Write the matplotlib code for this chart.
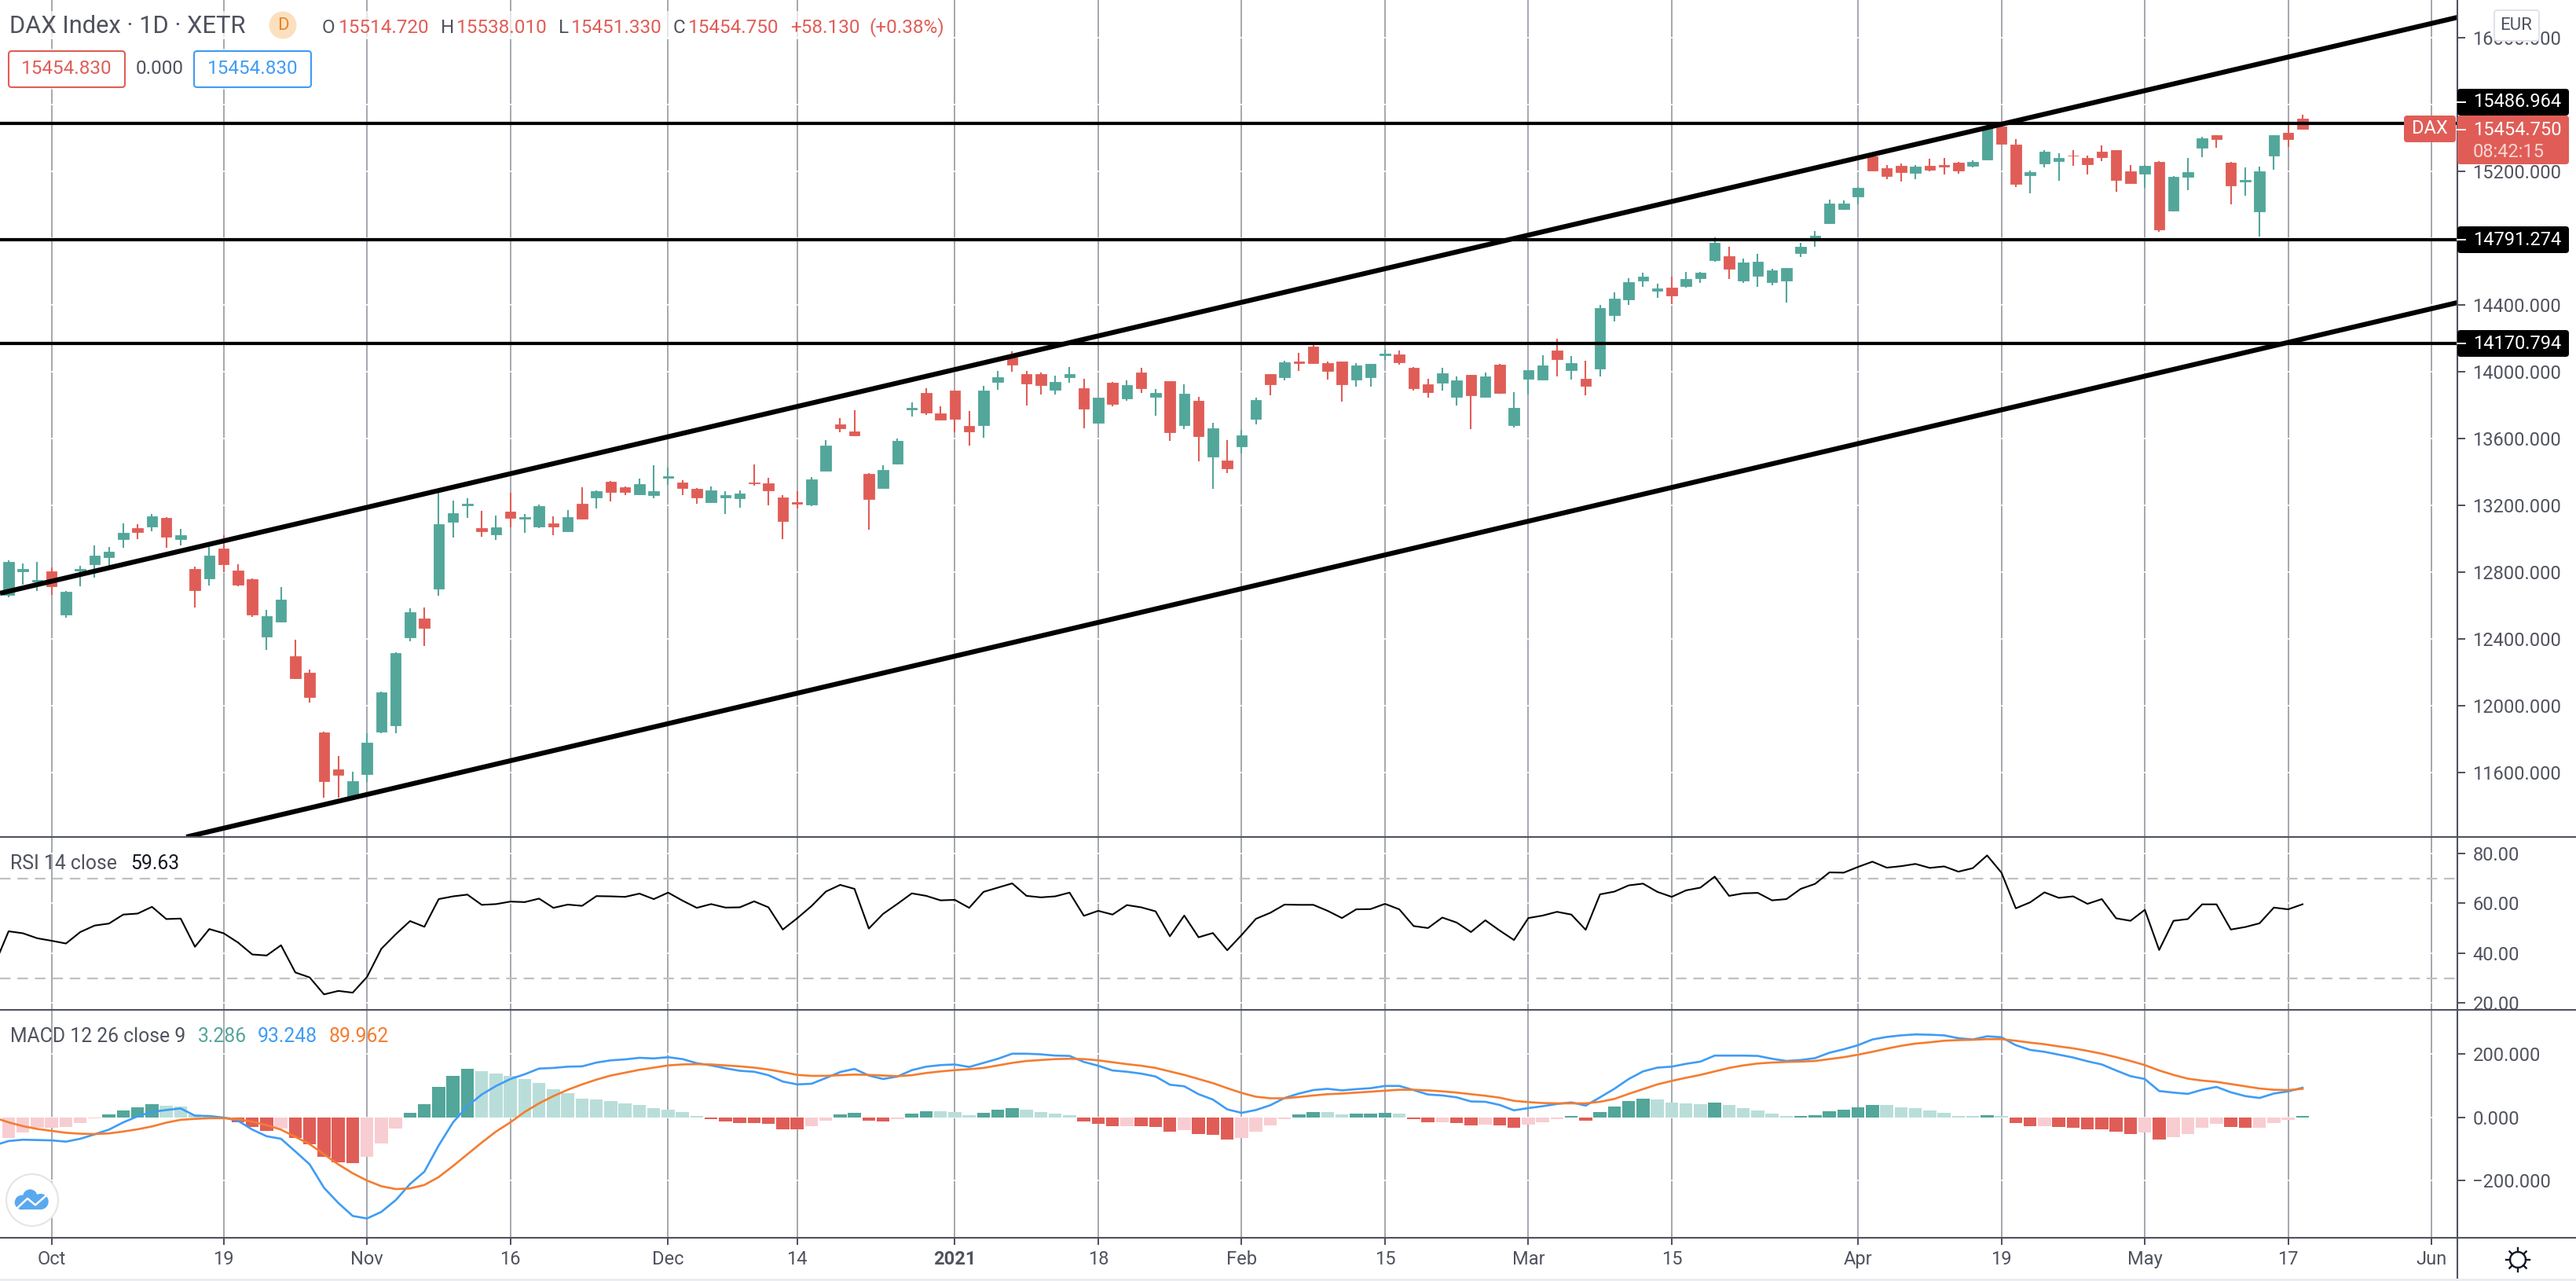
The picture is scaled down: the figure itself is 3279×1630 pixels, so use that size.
import numpy as np
import matplotlib
matplotlib.use("Agg")
import matplotlib.pyplot as plt
from matplotlib.patches import Circle, FancyBboxPatch, Rectangle
from matplotlib.transforms import Bbox

plt.rcParams['font.family'] = ['Roboto', 'DejaVu Sans']

# daily candles, bar 0 is the first one on the left edge
opens = [12662,12807,12744,12805,12547,12809,12848,12891,12999,13065,
         13074,13125,12999,12821,12764,12942,12810,12759,12415,12504,
         12295,12198,11840,11621,11460,11592,11845,11883,12410,12521,
         12703,13100,13199,13064,13028,13163,13118,13074,13093,13043,
         13211,13245,13343,13310,13267,13260,13363,13337,13298,13221,
         13245,13242,13337,13332,13248,13219,13207,13406,13686,13644,
         13390,13302,13448,13774,13871,13749,13885,13677,13678,13939,
         14083,13984,13984,13890,13967,13900,13693,13933,13838,13994,
         13848,13942,13678,13824,13490,13470,13551,13718,13984,13967,
         14060,14152,14050,14060,13951,13967,14100,14102,14022,13923,
         13933,13848,13980,13848,14041,13678,13956,13951,14126,14008,
         13956,14019,14339,14433,14546,14485,14503,14511,14560,14666,
         14694,14545,14573,14537,14545,14710,14806,14889,14975,15049,
         15290,15217,15235,15191,15235,15240,15252,15234,15270,15470,
         15358,15176,15247,15263,15296,15278,15316,15325,15202,15186,
         15255,14963,15169,15341,15415,15250,15138,14960,15295,15429,
         15514.72]
highs = [12869,12852,12863,12826,12687,12836,12961,12952,13093,13088,
         13146,13128,13060,12834,12949,13023,12845,12763,12576,12711,
         12395,12217,11845,11697,11604,11837,12083,12321,12585,12590,
         13274,13230,13240,13165,13141,13274,13146,13206,13132,13170,
         13307,13291,13346,13314,13360,13438,13426,13351,13303,13312,
         13283,13291,13447,13367,13259,13286,13370,13592,13721,13770,
         13394,13438,13598,13815,13901,13791,13888,13763,13914,14003,
         14124,14003,13994,13975,14027,13956,13846,13937,13947,14022,
         13895,13945,13923,13848,13693,13589,13653,13843,13987,14066,
         14111,14163,14060,14063,14050,14049,14132,14126,14030,13956,
         14022,13970,13983,13994,14046,13876,14011,14097,14198,14093,
         14064,14399,14474,14559,14591,14526,14571,14600,14597,14803,
         14748,14677,14705,14616,14623,14773,14842,15029,15026,15106,
         15293,15240,15247,15240,15275,15278,15255,15268,15480,15501,
         15391,15207,15325,15306,15325,15295,15356,15328,15240,15238,
         15260,15172,15278,15407,15418,15255,15224,15230,15418,15480,
         15538.01]
lows = [12648,12727,12689,12662,12528,12716,12769,12838,12947,12999,
        13047,12947,12959,12590,12722,12799,12713,12533,12335,12500,
        12162,12020,11447,11450,11452,11543,11837,11837,12388,12359,
        12660,13009,13127,13014,12995,13069,13035,13065,13023,13041,
        13115,13182,13225,13262,13262,13243,13322,13262,13211,13216,
        13149,13187,13319,13202,12999,13180,13197,13400,13639,13616,
        13052,13300,13445,13730,13740,13707,13638,13556,13606,13893,
        13998,13796,13862,13862,13933,13663,13690,13794,13827,13871,
        13735,13587,13658,13465,13300,13394,13512,13683,13857,13947,
        14003,14047,13951,13820,13909,13909,14069,14041,13885,13843,
        13885,13796,13655,13845,13868,13664,13865,13948,13970,13951,
        13857,13970,14300,14399,14506,14441,14403,14503,14530,14660,
        14555,14532,14507,14516,14413,14687,14748,14884,14970,15004,
        15203,15153,15140,15153,15200,15181,15186,15225,15268,15363,
        15107,15069,15225,15143,15234,15181,15262,15077,15127,15103,
        14838,14960,15085,15285,15341,15003,15054,14809,15209,15346,
        15451.33]
closes = [12863,12821,12754,12716,12684,12821,12899,12923,13036,13041,
          13132,13011,13023,12694,12899,12845,12727,12547,12537,12636,
          12165,12053,11549,11587,11548,11779,12080,12316,12561,12467,
          13088,13154,13209,13043,13069,13127,13129,13197,13074,13130,
          13118,13286,13279,13279,13329,13286,13375,13302,13245,13291,
          13262,13272,13331,13288,13105,13209,13356,13558,13659,13621,
          13238,13413,13584,13785,13755,13711,13716,13641,13889,13966,
          14041,13929,13918,13937,13984,13777,13843,13805,13918,13901,
          13871,13636,13867,13613,13660,13423,13617,13829,13925,14055,
          14050,14050,14003,13925,14036,14046,14110,14055,13900,13878,
          13989,13947,13859,13970,13871,13782,14008,14036,14074,14050,
          13914,14380,14436,14535,14569,14497,14455,14555,14591,14770,
          14616,14653,14658,14605,14620,14747,14814,15006,15006,15103,
          15206,15173,15197,15230,15209,15229,15206,15255,15465,15366,
          15126,15196,15316,15278,15292,15242,15285,15148,15130,15235,
          14852,15169,15194,15397,15392,15115,15146,15199,15415,15392,
          15454.75]

# rsi and macd lines start one bar before the first candle (bar -1)
rsi_vals = [35.1,
            48.8,48.0,46.0,45.0,43.9,48.5,51.1,51.9,55.5,55.9,
            58.6,53.7,53.9,42.6,49.7,48.0,44.3,39.5,39.1,43.2,
            32.3,30.3,23.5,24.9,24.2,30.5,41.8,47.6,52.9,50.6,
            61.7,62.8,63.5,59.4,59.7,60.7,60.5,61.9,58.2,59.5,
            59.0,62.9,62.8,62.6,63.9,61.7,64.3,61.1,58.2,59.7,
            58.3,58.4,60.8,58.4,49.5,54.0,58.9,64.7,67.4,65.8,
            49.9,55.8,59.8,64.0,63.0,61.2,61.4,58.2,64.6,66.3,
            68.0,63.0,62.4,62.8,64.3,55.0,57.0,55.5,59.3,58.4,
            56.8,46.8,55.1,46.4,48.1,41.2,47.3,53.8,56.2,59.5,
            59.4,59.4,57.0,54.1,57.6,57.7,59.8,57.6,50.9,50.1,
            54.3,52.3,48.5,53.2,49.1,45.3,54.1,55.1,56.6,55.5,
            49.4,63.6,64.7,67.2,67.9,64.6,62.6,65.2,66.3,70.7,
            63.0,64.0,64.2,61.2,61.7,65.8,67.8,72.4,72.3,74.6,
            76.7,74.3,74.9,75.8,74.2,74.8,72.7,74.1,79.2,72.3,
            58.0,60.4,64.4,62.2,62.8,59.8,61.7,54.0,53.0,57.4,
            41.3,53.0,53.7,59.6,59.6,49.5,50.5,52.0,58.3,57.6,59.63]
macd_vals = [-89,
             -75,-71,-72,-73,-77,-68,-54,-39,-16,3,
             17,23,28,5,4,-1,-11,-39,-60,-68,
             -108,-149,-223,-271,-312,-320,-299,-262,-211,-172,
             -89,-16,35,72,99,121,136,154,156,160,
             161,173,180,183,188,186,190,184,171,164,
             155,147,144,133,113,104,106,124,143,153,
             132,121,129,149,160,165,167,159,172,185,
             201,201,199,195,194,175,163,148,144,138,
             129,103,98,73,56,25,14,23,38,61,
             75,86,90,85,89,92,99,99,86,72,
             69,63,50,49,39,22,29,35,42,47,
             37,63,90,121,145,157,160,169,176,195,
             195,195,194,185,178,181,187,204,215,228,
             246,254,259,262,261,259,250,246,256,253,
             228,213,207,198,189,177,167,148,130,121,
             83,78,74,87,96,79,67,61,75,82,93.25]
signal_vals = [-1,
               -16,-28,-37,-43,-49,-52,-53,-51,-45,-38,
               -29,-17,-8,-5,-3,-3,-6,-14,-25,-39,
               -62,-85,-117,-149,-177,-200,-218,-227,-225,-214,
               -189,-154,-117,-80,-45,-16,17,44,67,87,
               104,119,132,141,150,157,164,167,168,167,
               164,161,157,151,143,134,131,131,133,135,
               134,132,130,133,140,145,149,152,156,164,
               172,178,181,184,185,184,180,174,168,163,
               156,145,134,121,108,92,77,65,60,60,
               64,69,73,75,78,81,84,87,87,85,
               82,78,73,68,62,52,48,45,44,44,
               44,49,58,74,89,104,115,125,134,145,
               156,164,170,173,175,176,178,184,190,198,
               207,217,226,233,237,242,244,245,247,247,
               242,236,231,224,218,210,201,190,178,165,
               148,134,122,116,112,105,98,91,87,86,89.96]
hist_vals = [-66,-49,-34,-34,-30,-19,-3,10,21,31,
             41,37,34,10,5,2,-16,-30,-43,-36,
             -66,-86,-126,-143,-145,-126,-83,-36,14,41,
             97,132,152,146,139,130,120,109,89,75,
             60,57,52,45,38,29,25,17,5,-6,
             -13,-18,-18,-21,-37,-38,-28,-10,9,14,
             -11,-13,-5,12,19,19,16,6,14,24,
             29,24,17,12,6,-13,-21,-28,-27,-28,
             -31,-45,-40,-52,-55,-71,-65,-45,-26,-6,
             9,17,17,9,12,12,14,12,-6,-16,
             -16,-19,-26,-23,-26,-34,-23,-16,-6,3,
             -11,17,34,52,59,56,46,44,41,46,
             38,29,21,12,5,5,7,19,25,32,
             38,38,32,29,21,14,5,3,7,5,
             -19,-28,-28,-31,-34,-37,-39,-46,-52,-48,
             -71,-62,-52,-34,-21,-31,-34,-34,-18,-8,3.286]
# G dark green, g light green, R dark red, r pink
hist_shade = ('r'*7 + 'G'*4 + 'g'*5 + 'R'*3 + 'r' + 'R'*5 + 'r'*3 + 'G'*5 + 'g'*16
              + 'R'*7 + 'rr' + 'GG' + 'RR' + 'r' + 'GG' + 'ggg' + 'GGG' + 'gggg'
              + 'RRR' + 'r' + 'RRR' + 'r' + 'RRR' + 'rrrr' + 'GG' + 'gg' + 'GGG' + 'g'
              + 'RR' + 'r' + 'RR' + 'r' + 'RR' + 'rrr' + 'G' + 'R' + 'GGGG' + 'gggg'
              + 'G' + 'ggggg' + 'GGGGGG' + 'g'*7 + 'G' + 'g' + 'RR' + 'r' + 'R'*6
              + 'r' + 'R' + 'rrrr' + 'RR' + 'rrr' + 'G')

date_pos = [3, 15, 25, 35, 46, 55, 66, 76, 86, 96, 106, 116, 129, 139, 149, 159, 169]
date_labels = ['Oct', '19', 'Nov', '16', 'Dec', '14', '2021', '18', 'Feb', '15',
               'Mar', '15', 'Apr', '19', 'May', '17', 'Jun']

price_ticks = [16000, 15200, 14400, 14000, 13600, 13200, 12800, 12400, 12000, 11600]
price_grid = [16000, 15600, 15200, 14800, 14400, 14000, 13600, 13200, 12800, 12400, 12000, 11600]
rsi_ticks = [80, 60, 40, 20]
macd_ticks = [200, 0, -200]
macd_tick_labels = ['200.000', '0.000', '\u2212200.000']

# drawings on the chart
level_lines = [15486.964, 14791.274, 14170.794]
upper_channel_x = [-0.6, 170.8]
upper_channel_y = [12673, 16122]
lower_channel_x = [12.4, 170.8]
lower_channel_y = [11214, 14414]

GREEN = '#53A69A'
RED = '#E05D57'
LIGHT_GREEN = '#B9DED9'
PINK = '#F8CDD2'
BLUE = '#3F9CF5'
ORANGE = '#F57C2F'
AXIS = '#50535E'
GRID = '#9598A1'
TXT = '#50535E'
FS = 17.5
TICK_FS = 17

W, H = 3280, 1630
AX_R = 3128
fig = plt.figure(figsize=(W / 100, H / 100), dpi=100, facecolor='white')


def pane(y_top, y_bot):
    ax = fig.add_axes([0, 1 - y_bot / H, AX_R / W, (y_bot - y_top) / H])
    ax.set_xlim(-0.6, 170.8)
    for s in ax.spines.values():
        s.set_visible(False)
    for d in date_pos:
        ax.axvline(d, color=GRID, lw=1.2, zorder=1)
    ax.yaxis.tick_right()
    ax.tick_params(axis='y', length=7, width=1.44, color=AXIS, labelcolor=TXT,
                   labelsize=TICK_FS, pad=7)
    ax.tick_params(axis='x', length=0, labelbottom=False)
    ax.set_xticks(date_pos)
    return ax


# price pane
ax = pane(0, 1065)
ax.set_ylim(11214, 16226)
for lv in price_grid:
    ax.axhline(lv, color='white', lw=1.2, zorder=1.5)
ax.set_yticks(price_ticks)
ax.set_yticklabels(['%.3f' % p for p in price_ticks])
bars = np.arange(len(opens))
o = np.array(opens)
c = np.array(closes)
cols = [GREEN if cc >= oo else RED for oo, cc in zip(o, c)]
ax.vlines(bars, lows, highs, colors=cols, lw=1.5, zorder=3)
ax.bar(bars, np.abs(c - o), bottom=np.minimum(o, c), width=0.74, color=cols,
       edgecolor=cols, linewidth=0.6, zorder=4)
for lv in level_lines:
    ax.axhline(lv, color='black', lw=3.0, zorder=6)
ax.plot(upper_channel_x, upper_channel_y, color='black', lw=4.5, zorder=6, solid_capstyle='butt')
ax.plot(lower_channel_x, lower_channel_y, color='black', lw=4.5, zorder=6, solid_capstyle='butt')

# rsi pane
ax2 = pane(1065, 1285)
ax2.set_ylim(17.3, 86.6)
for lv in rsi_ticks:
    ax2.axhline(lv, color='white', lw=1.2, zorder=1.5)
ax2.set_yticks(rsi_ticks)
ax2.set_yticklabels(['%.2f' % r for r in rsi_ticks])
for lv in [70, 30]:
    ax2.axhline(lv, color='#C0C0C0', lw=1.6, ls=(0, (6, 4)), zorder=2)
ax2.plot(np.arange(-1, len(rsi_vals) - 1), rsi_vals, color='black', lw=1.5, zorder=4)
for lb in ax2.get_yticklabels():
    lb.set_clip_box(Bbox([[AX_R, H - 1285], [W, H]]))
    lb.set_clip_on(True)

# macd pane
ax3 = pane(1285, 1575)
ax3.set_ylim(-381, 339.6)
for lv in macd_ticks:
    ax3.axhline(lv, color='white', lw=1.2, zorder=1.5)
ax3.set_yticks(macd_ticks)
ax3.set_yticklabels(macd_tick_labels)
shade_cols = {'G': GREEN, 'g': LIGHT_GREEN, 'R': RED, 'r': PINK}
ax3.bar(np.arange(len(hist_vals)), hist_vals, width=0.9,
        color=[shade_cols[s] for s in hist_shade], zorder=3)
line_x = np.arange(-1, len(macd_vals) - 1)
ax3.plot(line_x, macd_vals, color=BLUE, lw=1.9, zorder=4)
ax3.plot(line_x, signal_vals, color=ORANGE, lw=1.9, zorder=5)
ax3.tick_params(axis='x', length=6.5, width=1.44, color=AXIS, labelbottom=True,
                labelcolor=TXT, labelsize=TICK_FS, pad=5)
ax3.set_xticklabels(date_labels)
for lb, name in zip(ax3.get_xticklabels(), date_labels):
    if name == '2021':
        lb.set_fontweight('bold')

# everything outside the scales goes on an overlay in pixel units
ov = fig.add_axes([0, 0, 1, 1], zorder=10)
ov.set_xlim(0, W)
ov.set_ylim(H, 0)
ov.axis('off')

for yy in [1065, 1285, 1575]:
    ov.plot([0, W], [yy, yy], color=AXIS, lw=1.5, zorder=2)
ov.plot([AX_R, AX_R], [0, 1628], color=AXIS, lw=1.5, zorder=2)
ov.add_patch(Rectangle((0, 1627), W, 3, color='#E9EDF2', lw=0, zorder=2))


def label(x, y, s, color=TXT, size=FS, ha='left', **kw):
    ov.text(x, y, s, color=color, fontsize=size, ha=ha, va='center', zorder=6, **kw)


def box(x0, y0, x1, y1, face, edge='none', lw=0, r=4, zorder=3):
    ov.add_patch(FancyBboxPatch((x0 + r, y0 + r), x1 - x0 - 2 * r, y1 - y0 - 2 * r,
                                boxstyle='round,pad=%d,rounding_size=%d' % (r, r),
                                fc=face, ec=edge, lw=lw, zorder=zorder))


# header
ov.add_patch(Rectangle((0, 14), 1205, 36, color='white', alpha=0.7, lw=0, zorder=3))
ov.add_patch(Rectangle((0, 62), 400, 52, color='white', alpha=0.7, lw=0, zorder=3))
label(12, 33, 'DAX Index \u00b7 1D \u00b7 XETR', size=22.2)
ov.add_patch(Circle((360, 32), 17.5, color='#FBE0BF', lw=0, zorder=4))
label(360, 32, 'D', color='#E8842A', size=16, ha='center')
label(410, 35, 'O')
label(431, 35, '15514.720', color=RED)
label(561, 35, 'H')
label(581, 35, '15538.010', color=RED)
label(711, 35, 'L')
label(727, 35, '15451.330', color=RED)
label(857, 35, 'C')
label(876, 35, '15454.750', color=RED)
label(1006, 35, '+58.130', color=RED)
label(1106, 35, '(+0.38%)', color=RED)
box(11, 65, 159, 111, 'white', RED, 1.5)
label(85, 88, '15454.830', color=RED, ha='center')
label(203, 88, '0.000', ha='center')
box(247, 65, 396, 111, 'white', BLUE, 1.5)
label(322, 88, '15454.830', color=BLUE, ha='center')

# indicator legends
label(13, 1099, 'RSI 14 close', size=17.8)
label(166, 1099, '59.63', color='#131722', size=17.8)
label(13, 1319, 'MACD 12 26 close 9', size=17.8)
label(252, 1319, '3.286', color=GREEN, size=17.8)
label(328, 1319, '93.248', color=BLUE, size=17.8)
label(419, 1319, '89.962', color=ORANGE, size=17.8)

# price scale tags
box(3175, 13, 3232, 52, 'white', '#E0E3EB', 1.5)
label(3203, 32, 'EUR', ha='center', size=16)
for top, txt in [(113, '15486.964'), (288, '14791.274'), (420, '14170.794')]:
    box(AX_R, top, 3270, top + 34, 'black')
    ov.plot([AX_R, AX_R + 10], [top + 17, top + 17], color='white', lw=1.4, zorder=5)
    label(3148, top + 17, txt, color='white', size=TICK_FS)
box(AX_R, 147, 3270, 209, RED)
ov.plot([AX_R, AX_R + 10], [165, 165], color='white', lw=1.4, zorder=5)
label(3148, 165, '15454.750', color='white', size=TICK_FS)
label(3148, 193, '08:42:15', color='#F8D5D3', size=TICK_FS)
box(3060, 147, 3126, 181, RED)
label(3093, 164, 'DAX', color='white', ha='center', size=TICK_FS)

# logo
ov.add_patch(Circle((41, 1527), 33, fc='white', ec='#E6E6E6', lw=1.6, zorder=3))
for cx, cy, r in [(28, 1530, 9.3), (38.3, 1522.7, 9.3), (51.7, 1529, 10)]:
    ov.add_patch(Circle((cx, cy), r, color='#5AA9EE', lw=0, zorder=4))
ov.add_patch(Rectangle((28, 1528), 24, 11, color='#5AA9EE', lw=0, zorder=4))
ov.plot([21.7, 35, 45, 58.3], [1537.3, 1525, 1533.3, 1521.7], color='white', lw=1.8, zorder=5)

# settings icon
ov.add_patch(Circle((3205, 1603), 10, fc='white', ec='#131722', lw=1.7, zorder=4))
for ang in np.arange(0, 360, 45):
    ca, sa = np.cos(np.radians(ang)), np.sin(np.radians(ang))
    ov.plot([3205 + 10 * ca, 3205 + 15 * ca], [1603 + 10 * sa, 1603 + 15 * sa],
            color='#131722', lw=1.7, zorder=4)

fig.savefig('out.png', dpi=100)
